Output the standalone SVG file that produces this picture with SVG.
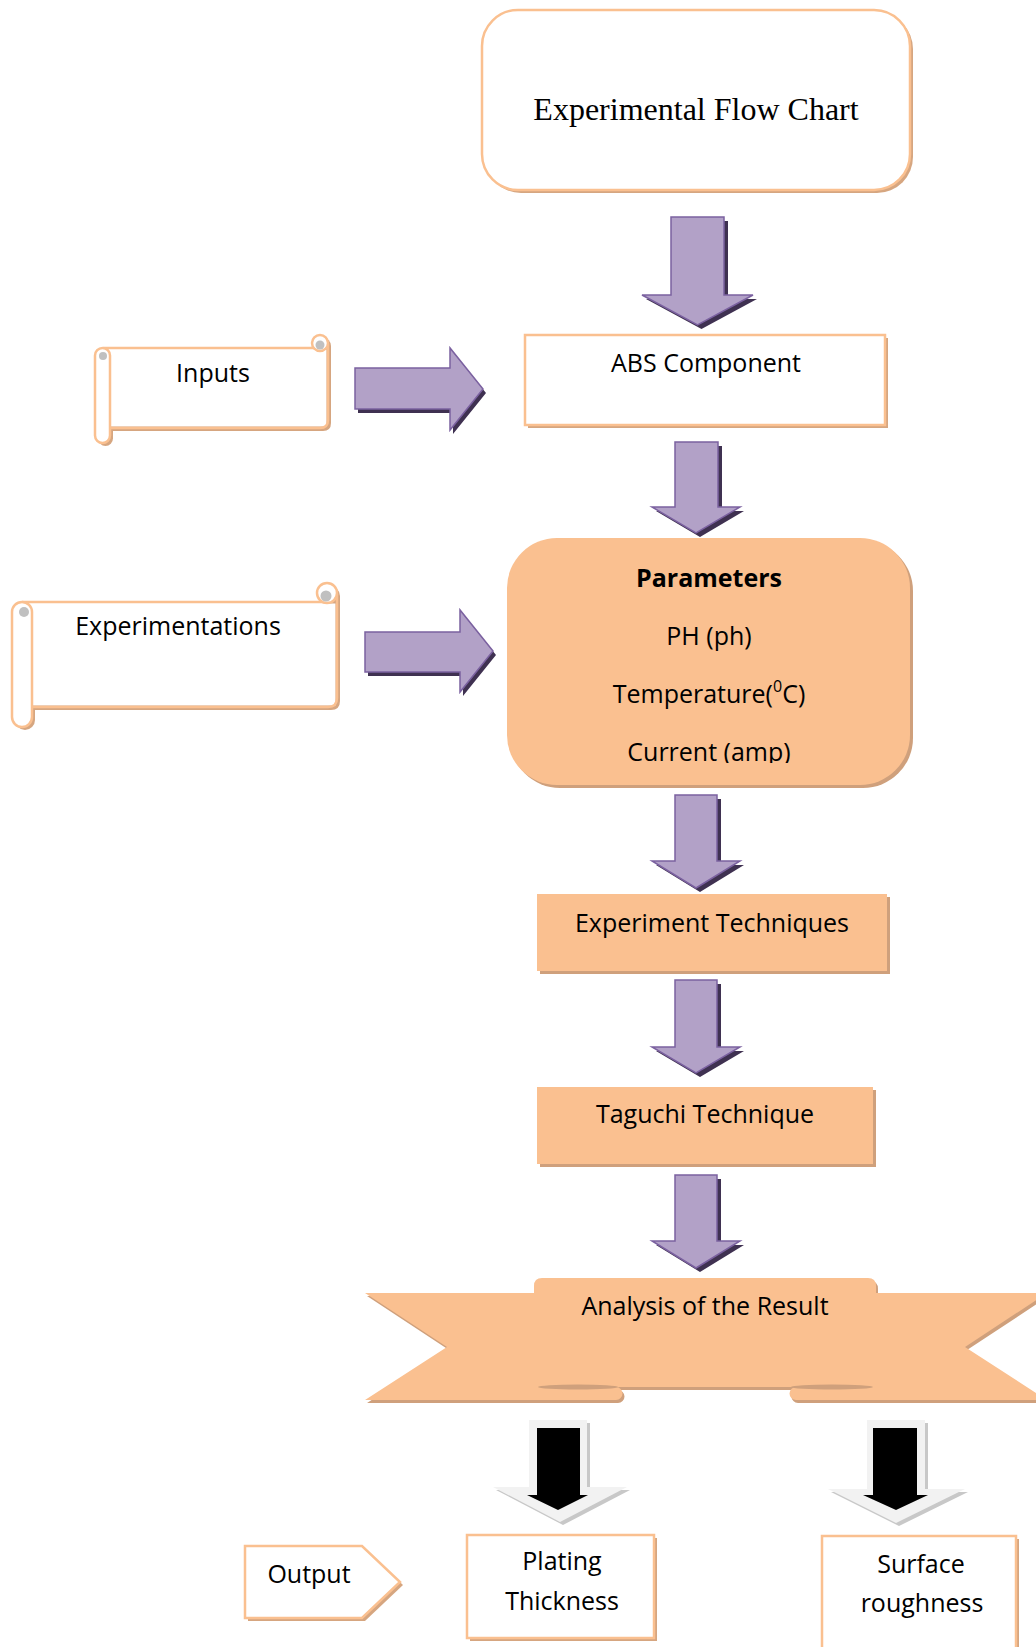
<svg xmlns="http://www.w3.org/2000/svg" width="1036" height="1647" viewBox="0 0 1036 1647">
<defs>
<style>
.wb{fill:#ffffff;stroke:#fac090;stroke-width:2.5}
.pb{fill:#fac090}
.sh{fill:#d6a680}
.psh{fill:#cfa07c}
.arr{fill:#b2a1c7;stroke:#7b61a0;stroke-width:1.5}
.ash{fill:#3f3151}
.gsh{fill:#c8c8c8}
.gar{fill:#f2f2f2}
.bar{fill:#000000}
.dot{fill:#c0c0c0}
.t{font-family:"Open Sans","Liberation Sans",sans-serif;font-size:25px;fill:#000;text-anchor:middle}
.tb{font-weight:bold}
.title{font-family:"Liberation Serif","Times New Roman",serif;font-size:32px;fill:#000;text-anchor:middle}
</style>
<clipPath id="clipCur"><rect x="500" y="540" width="420" height="223"/></clipPath>
</defs>
<rect width="1036" height="1647" fill="#ffffff"/>

<g id="connectors">
  <path class="ash" transform="translate(4,4)" d="M671,217 H724 V295 H753 L697.5,325 L642,295 H671 Z"/>
  <path class="arr" d="M671,217 H724 V295 H753 L697.5,325 L642,295 H671 Z"/>
  <path class="ash" transform="translate(4,4)" d="M675,442 H718 V507 H740 L696,533 L652,507 H675 Z"/>
  <path class="arr" d="M675,442 H718 V507 H740 L696,533 L652,507 H675 Z"/>
  <path class="ash" transform="translate(4,4)" d="M675,795 H717 V861 H740 L696,888 L652,861 H675 Z"/>
  <path class="arr" d="M675,795 H717 V861 H740 L696,888 L652,861 H675 Z"/>
  <path class="ash" transform="translate(4,4)" d="M675,980 H717 V1047 H740 L696,1073 L652,1047 H675 Z"/>
  <path class="arr" d="M675,980 H717 V1047 H740 L696,1073 L652,1047 H675 Z"/>
  <path class="ash" transform="translate(4,4)" d="M675,1175 H717 V1241 H740 L696,1268 L652,1241 H675 Z"/>
  <path class="arr" d="M675,1175 H717 V1241 H740 L696,1268 L652,1241 H675 Z"/>
  <path class="ash" transform="translate(3,4)" d="M355,368 H450 V348 L483,389 L450,430 V409 H355 Z"/>
  <path class="arr" d="M355,368 H450 V348 L483,389 L450,430 V409 H355 Z"/>
  <path class="ash" transform="translate(3,4)" d="M365,632 H460 V610 L493,651 L460,692 V672 H365 Z"/>
  <path class="arr" d="M365,632 H460 V610 L493,651 L460,692 V672 H365 Z"/>
  <path class="gsh" transform="translate(3,3)" d="M529,1420 H587 V1487 H627 L560,1522 L493,1487 H529 Z"/>
  <path class="gar" d="M529,1420 H587 V1487 H627 L560,1522 L493,1487 H529 Z"/>
  <path class="bar" d="M537,1428 H580 V1495 H588 L558,1510 L527,1495 H537 Z"/>
  <path class="gsh" transform="translate(3,3)" d="M867,1420 H925 V1489 H965 L896,1523 L828,1489 H867 Z"/>
  <path class="gar" d="M867,1420 H925 V1489 H965 L896,1523 L828,1489 H867 Z"/>
  <path class="bar" d="M873,1428 H917 V1495 H928 L896,1510 L863,1495 H873 Z"/>
</g>

<g id="title">
  <rect class="sh" x="485" y="13" width="428" height="180" rx="36"/>
  <rect class="wb" x="482" y="10" width="428" height="180" rx="36"/>
  <text class="title" x="696" y="120">Experimental Flow Chart</text>
</g>

<g id="inputs">
  <g transform="translate(3,3)" class="sh">
    <path d="M103,348 H318 V343 H328 V420 Q328,428 320,428 H110 Z"/>
    <rect x="95" y="348" width="15" height="95" rx="7.5"/>
    <circle cx="320" cy="343" r="8"/>
  </g>
  <path fill="#ffffff" d="M103,349.5 H326.5 V426.5 H110 Z"/>
  <path fill="none" stroke="#fac090" stroke-width="2.5" d="M103,348 H316 M328,344 V420 Q328,428 320,428 H110"/>
  <circle class="wb" cx="320" cy="343" r="8"/>
  <circle class="dot" cx="320" cy="345" r="4.5"/>
  <rect class="wb" x="95" y="348" width="15" height="95" rx="7.5"/>
  <circle class="dot" cx="103" cy="356" r="4"/>
  <text class="t" x="213" y="382">Inputs</text>
</g>

<g id="experimentations">
  <g transform="translate(3,3)" class="sh">
    <path d="M22,602 H327 V593 H337 V698 Q337,707 328,707 H32 Z"/>
    <rect x="12" y="602" width="20" height="125" rx="10"/>
    <circle cx="327" cy="593" r="10"/>
  </g>
  <path fill="#ffffff" d="M22,603.5 H335.5 V705.5 H32 Z"/>
  <path fill="none" stroke="#fac090" stroke-width="2.5" d="M22,602 H325 M337,594 V698 Q337,707 328,707 H32"/>
  <circle class="wb" cx="327" cy="593" r="10"/>
  <circle class="dot" cx="326" cy="596" r="5.5"/>
  <rect class="wb" x="12" y="602" width="20" height="125" rx="10"/>
  <circle class="dot" cx="24" cy="612" r="5"/>
  <text class="t" x="178" y="635">Experimentations</text>
</g>

<g id="abs">
  <rect class="sh" x="528" y="338" width="360" height="90"/>
  <rect class="wb" x="525" y="335" width="360" height="90"/>
  <text class="t" x="706" y="372">ABS Component</text>
</g>

<g id="parameters">
  <rect class="psh" x="510" y="541" width="403" height="247" rx="50"/>
  <rect class="pb" x="507" y="538" width="403" height="247" rx="50"/>
  <text class="t tb" x="709" y="587">Parameters</text>
  <text class="t" x="709" y="645">PH (ph)</text>
  <text class="t" x="709" y="703">Temperature(<tspan font-size="16" dy="-11">0</tspan><tspan dy="11">C)</tspan></text>
  <text class="t" x="709" y="761" clip-path="url(#clipCur)">Current (amp)</text>
</g>

<g id="experiment-techniques">
  <rect class="psh" x="540" y="897" width="350" height="77"/>
  <rect class="pb" x="537" y="894" width="350" height="77"/>
  <text class="t" x="712" y="932">Experiment Techniques</text>
</g>

<g id="taguchi">
  <rect class="psh" x="540" y="1090" width="336" height="77"/>
  <rect class="pb" x="537" y="1087" width="336" height="77"/>
  <text class="t" x="705" y="1123">Taguchi Technique</text>
</g>

<g id="analysis">
  <g transform="translate(2,3)" class="psh">
    <path d="M365,1293 H560 V1387 H616 A6.5,6.5 0 0 1 616,1400 H365 L447,1347 Z"/>
    <path d="M1047,1293 H850 V1387 H796 A6.5,6.5 0 0 0 796,1400 H1047 L965,1347 Z"/>
    <path d="M534,1387 V1286 Q534,1278 542,1278 H868 Q876,1278 876,1286 V1387 Z"/>
  </g>
  <path class="pb" d="M365,1293 H560 V1387 H616 A6.5,6.5 0 0 1 616,1400 H365 L447,1347 Z"/>
  <path class="pb" d="M1047,1293 H850 V1387 H796 A6.5,6.5 0 0 0 796,1400 H1047 L965,1347 Z"/>
  <path class="pb" d="M534,1387 V1286 Q534,1278 542,1278 H868 Q876,1278 876,1286 V1387 Z"/>
  <ellipse class="psh" cx="578" cy="1387" rx="40" ry="2.5"/>
  <ellipse class="psh" cx="832" cy="1387" rx="41" ry="2.5"/>
  <text class="t" x="705" y="1315">Analysis of the Result</text>
</g>

<g id="output">
  <path class="sh" transform="translate(3,3)" d="M245,1546 H362 L400,1582 L362,1618 H245 Z"/>
  <path class="wb" d="M245,1546 H362 L400,1582 L362,1618 H245 Z"/>
  <text class="t" x="309" y="1583">Output</text>
</g>

<g id="plating">
  <rect class="sh" x="470" y="1538" width="187" height="103"/>
  <rect class="wb" x="467" y="1535" width="187" height="103"/>
  <text class="t" x="562" y="1570">Plating</text>
  <text class="t" x="562" y="1610">Thickness</text>
</g>

<g id="surface">
  <rect class="sh" x="825" y="1539" width="194" height="130"/>
  <rect class="wb" x="822" y="1536" width="194" height="130"/>
  <text class="t" x="921" y="1573">Surface</text>
  <text class="t" x="922" y="1612">roughness</text>
</g>
</svg>
